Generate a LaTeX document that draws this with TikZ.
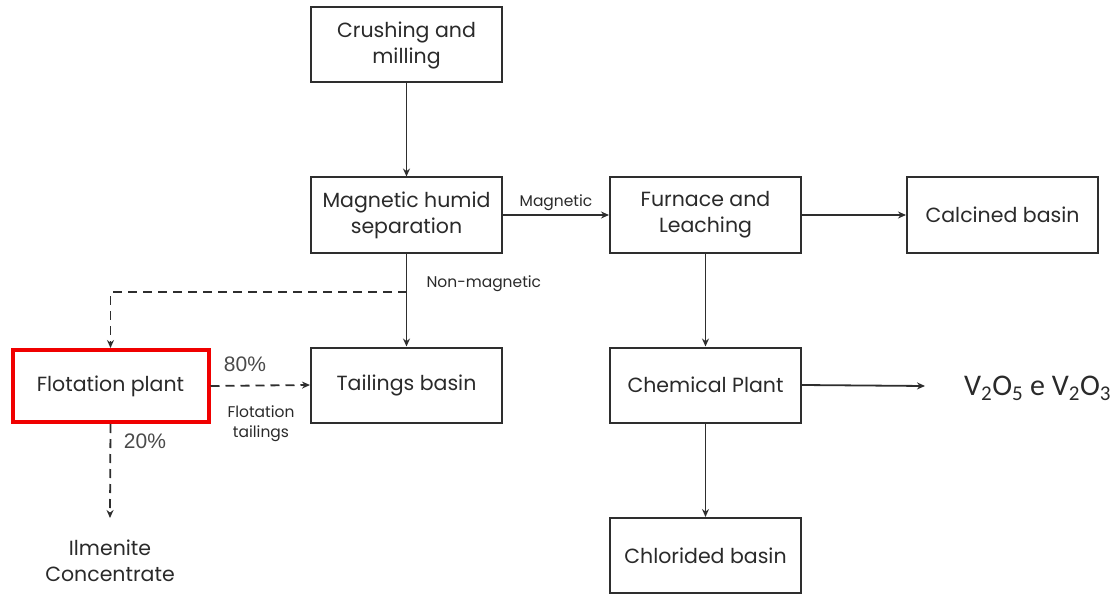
\documentclass[tikz,border=0pt]{standalone}
\usepackage{fontspec}
\setmainfont{Poppins}
\newfontfamily\pctfont{Liberation Sans}
\newfontfamily\chemfont{Carlito}
\usetikzlibrary{arrows.meta}
\definecolor{ink}{HTML}{2A2A2A}
\definecolor{lineink}{HTML}{2E2E2E}
\definecolor{pctink}{HTML}{4A4A4A}
\definecolor{flagred}{HTML}{F00000}
\begin{document}
\begin{tikzpicture}[x=1pt,y=-1pt,
  every node/.style={text=ink},
  procbox/.style={draw=lineink, line width=2pt, fill=white, minimum width=191pt,
    minimum height=75pt, align=center, inner sep=0pt,
    font=\fontsize{20.5}{26}\selectfont},
  hotbox/.style={procbox, draw=flagred, line width=4pt, minimum width=196pt, minimum height=72pt},
  flow/.style={draw=lineink, line width=1.8pt, -{Stealth[length=8pt,width=7pt]}},
  dflow/.style={flow, dash pattern=on 9pt off 6pt},
  small/.style={font=\fontsize{15.5}{20}\selectfont, align=center},
  pct/.style={font=\pctfont\fontsize{21}{24}\selectfont, text=pctink}
]
\useasboundingbox (0,0) rectangle (1119,596);

% process boxes
\node[procbox] (crush) at (406.5,45) {Crushing and\\milling};
\node[procbox] (mag)   at (406.5,215) {Magnetic humid\\separation};
\node[procbox] (furn)  at (705.5,215) {Furnace and\\Leaching};
\node[procbox] (calc)  at (1002.5,215) {Calcined basin};
\node[procbox] (tail)  at (406.5,385) {Tailings basin};
\node[procbox] (chem)  at (705.5,385) {Chemical Plant};
\node[procbox] (chlo)  at (705.5,555.5) {Chlorided basin};
\node[hotbox]  (flot)  at (110.5,386) {Flotation plant};

% products
\node[font=\chemfont\fontsize{30}{32}\selectfont, anchor=west, inner sep=0pt] (vox) at (964,388)
  {V\textsubscript{2}O\textsubscript{5} e V\textsubscript{2}O\textsubscript{3}};
\node[font=\fontsize{20.5}{26}\selectfont, align=center] (ilm) at (110,561)
  {Ilmenite\\Concentrate};
\coordinate (voxin) at (925,386);
\coordinate (ilmin) at (110,518);
\coordinate (split) at (406.5,292);

% main flow
\draw[flow] (crush) -- (mag);
\draw[flow] (mag) -- node[above, small] {Magnetic} (furn);
\draw[flow] (furn) -- (calc);
\draw[flow] (furn) -- (chem);
\draw[flow] (chem) -- (chlo);
\draw[flow] (chem.east) -- (voxin);
\draw[flow] (mag) -- (tail);
\node[small, anchor=west] (nonmag) at (423,284) {Non-magnetic};

% flotation branch
\draw[dflow] (split) -| (flot.north);
\draw[dflow] (flot.east) -- (tail.west);
\node[pct] (p80) at (245,364) {80\%};
\node[small] (ftail) at (261,424) {Flotation\\tailings};
\draw[dflow] (flot.south) -- (ilmin);
\node[pct] (p20) at (145,441) {20\%};
\end{tikzpicture}
\end{document}
